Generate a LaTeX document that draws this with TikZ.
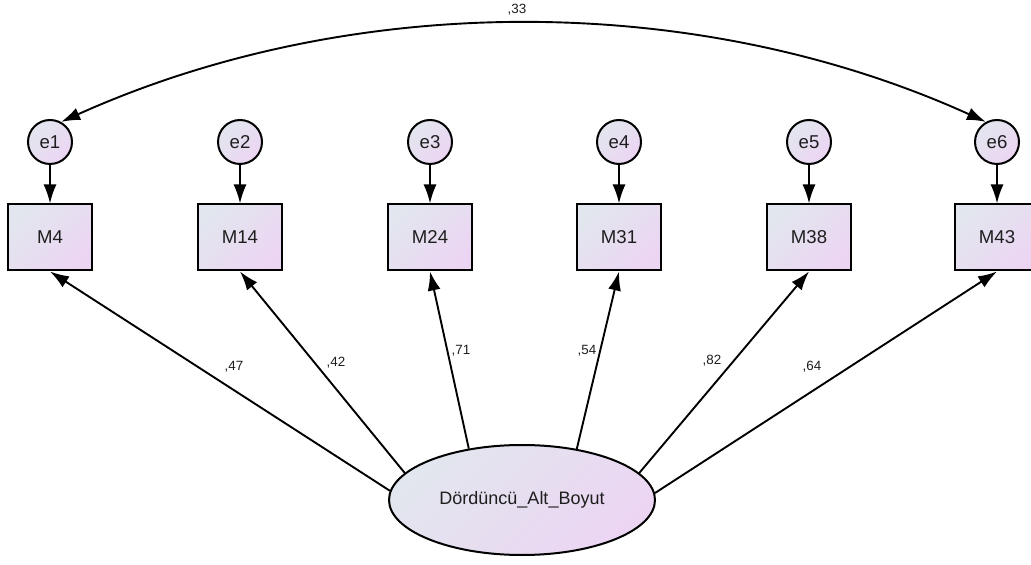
\documentclass[tikz,border=0pt]{standalone}
\usepackage{fontspec}
\setmainfont{Liberation Sans}
\usetikzlibrary{arrows.meta,shapes}
\definecolor{shadeA}{RGB}{226,230,238}
\definecolor{shadeB}{RGB}{236,213,243}
\definecolor{txt}{RGB}{30,30,30}
\tikzstyle{obs}=[rectangle,draw,line width=1pt,minimum width=42pt,minimum height=33pt,inner sep=0pt,left color=shadeA,right color=shadeB,shading angle=45,text=txt,font=\fontsize{9.3}{10}\selectfont]
\tikzstyle{err}=[circle,draw,line width=1pt,minimum size=22pt,inner sep=0pt,left color=shadeA,right color=shadeB,shading angle=45,text=txt,font=\fontsize{9.3}{10}\selectfont]
\tikzstyle{lat}=[ellipse,draw,line width=1pt,minimum width=133pt,minimum height=55pt,inner sep=0pt,left color=shadeA,right color=shadeB,shading angle=45,text=txt,font=\fontsize{9}{10}\selectfont]
\tikzstyle{coef}=[inner sep=0pt,text=txt,font=\fontsize{6.7}{7}\selectfont]
\tikzstyle{tarrow}=[->,>={Latex[length=9.5pt,width=6.5pt]},line width=0.95pt]

\begin{document}
\begin{tikzpicture}[x=0.5pt,y=-0.5pt]
  \useasboundingbox (0,0) rectangle (1031,565);

  \node[err] (e1) at (50,142) {e1};
  \node[err] (e2) at (240,142) {e2};
  \node[err] (e3) at (430,142) {e3};
  \node[err] (e4) at (619,142) {e4};
  \node[err] (e5) at (809,142) {e5};
  \node[err] (e6) at (997,142) {e6};

  \node[obs] (m4) at (50,237.5) {M4};
  \node[obs] (m14) at (240,237.5) {M14};
  \node[obs] (m24) at (430,237.5) {M24};
  \node[obs] (m31) at (619,237.5) {M31};
  \node[obs] (m38) at (809,237.5) {M38};
  \node[obs] (m43) at (997,237.5) {M43};

  \node[lat] (boyut) at (522,500) {Dördüncü\_Alt\_Boyut};

  \node[coef] (c0) at (517,10) {,33};
  \node[coef] (c1) at (234,367) {,47};
  \node[coef] (c2) at (336,363) {,42};
  \node[coef] (c3) at (461,351) {,71};
  \node[coef] (c4) at (587,351) {,54};
  \node[coef] (c5) at (712,361) {,82};
  \node[coef] (c6) at (812,367) {,64};

  \draw[tarrow] (e1) to (m4);
  \draw[tarrow] (e2) to (m14);
  \draw[tarrow] (e3) to (m24);
  \draw[tarrow] (e4) to (m31);
  \draw[tarrow] (e5) to (m38);
  \draw[tarrow] (e6) to (m43);

  \draw[tarrow] (boyut.176.9) to (m4.south);
  \draw[tarrow] (boyut.167) to (m14.south);
  \draw[tarrow] (boyut.136.6) to (m24.south);
  \draw[tarrow] (boyut.43.4) to (m31.south);
  \draw[tarrow] (boyut.13) to (m38.south);
  \draw[tarrow] (boyut.3.1) to (m43.south);

  % covariance e1 -- e6
  \draw[tarrow,<->] (e1.61) .. controls (352,-9) and (697,-9) .. (e6.119);

\end{tikzpicture}
\end{document}
